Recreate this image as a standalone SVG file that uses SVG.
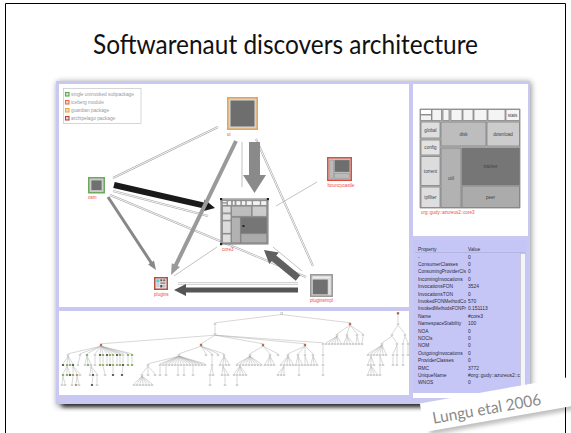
<svg xmlns="http://www.w3.org/2000/svg" xmlns:xlink="http://www.w3.org/1999/xlink" width="571" height="433" viewBox="0 0 571 433">
<style>
.t{font-family:"Liberation Sans",Arial,sans-serif}
.lg{font-size:4.8px;fill:#9a9a9a}
.nl{font-size:4.6px;fill:#f04848}
.tm{font-size:4.6px;fill:#444;text-anchor:middle}
.pp{font-size:4.9px;fill:#2a2a3a}
.cell{stroke:#7a7a7a;stroke-width:.7px;vector-effect:non-scaling-stroke}
.edge{fill:none;stroke:#a8a8a8;stroke-width:.45}
.thin{fill:none;stroke:#a8a8a8;stroke-width:.7}
.nd{fill:none;stroke-linecap:square}
</style>
<defs>
<filter id="blur" x="-10%" y="-10%" width="120%" height="130%"><feGaussianBlur stdDeviation="3"/></filter>
<filter id="blur2" x="-10%" y="-50%" width="120%" height="200%"><feGaussianBlur stdDeviation="2.2"/></filter>
<!-- treemap cells of the core3 package -->
<g id="tm">
<rect class="cell" x="420" y="109" width="100" height="99" fill="#b8b8b8"/>
<rect class="cell" x="420.5" y="109.5" width="11" height="5" fill="#fff"/>
<rect class="cell" x="420.5" y="115" width="11" height="5.5" fill="#f2f2f2"/>
<rect class="cell" x="432" y="109.5" width="9.5" height="11" fill="#f4f4f4"/>
<rect class="cell" x="443" y="109.5" width="6" height="11" fill="#f4f4f4"/>
<rect class="cell" x="451" y="109.5" width="11" height="11" fill="#f4f4f4"/>
<rect class="cell" x="463" y="109.5" width="10" height="11" fill="#f4f4f4"/>
<rect class="cell" x="474" y="109.5" width="13" height="11" fill="#f4f4f4"/>
<rect class="cell" x="488" y="109.5" width="17" height="11" fill="#f4f4f4"/>
<rect class="cell" x="506" y="109.5" width="13.5" height="11" fill="#f4f4f4"/>
<rect class="cell" x="421" y="122" width="19" height="16" fill="#dedede"/>
<rect class="cell" x="421" y="140" width="19" height="15" fill="#e2e2e2"/>
<rect class="cell" x="421" y="156.5" width="19" height="29" fill="#dcdcdc"/>
<rect class="cell" x="421" y="187" width="19" height="20.5" fill="#dedede"/>
<rect class="cell" x="441" y="122" width="45" height="24" fill="#bdbdbd"/>
<rect class="cell" x="487" y="122" width="32.5" height="24" fill="#cccccc"/>
<rect class="cell" x="441" y="148" width="20" height="59.5" fill="#b2b2b2"/>
<rect class="cell" x="462" y="148" width="57.5" height="37" fill="#767676"/>
<rect class="cell" x="462" y="186" width="57.5" height="21.5" fill="#ababab"/>
</g>
<!-- connector geometry shared by the two strokes of each double line -->
<path id="dl" d="M218,127L113,178M113,191L208,216M110,195L306,277M256,139L313,266M298,283.5L178,283.5"/>
<!-- tree nodes -->
<path id="nw" d="M281.7,313.3h.01M215,324h.01M215,334h.01M323,344h.01M337,335h.01M347,335h.01M357,335h.01M363,335h.01
M326,344h.01M329,344h.01M332,344h.01M335,344h.01M338,344h.01M341,344h.01M344,344h.01M347,344h.01M350,344h.01M353,344h.01M356,344h.01M359,344h.01M362,344h.01
M323,355h.01M323,365h.01M323,375h.01
M398,324h.01M392,335h.01M405,335h.01M382,344h.01M397,344h.01M403,344h.01M408,344h.01
M368,355h.01M371,355h.01M374,355h.01M377,355h.01M380,355h.01M383,355h.01M386,355h.01M393,355h.01M397,355h.01M403,355h.01M408,355h.01
M368,365h.01M371,365h.01M374,365h.01M380,365h.01M383,365h.01M393,365h.01M397,365h.01M403,365h.01
M368,375h.01M371,375h.01M374,375h.01M377,375h.01M380,375h.01
M250,355h.01M270,355h.01M278,355h.01
M237,365h.01M240,365h.01M243,365h.01M246,365h.01M249,365h.01M252,365h.01M255,365h.01M258,365h.01M261,365h.01M265,365h.01M268,365h.01M271,365h.01M274,365h.01
M234,375h.01M237,375h.01M240,375h.01M243,375h.01M246,375h.01M237,385h.01
M288,355h.01M298,355h.01M305,355h.01M313,355h.01
M281,365h.01M284,365h.01M287,365h.01M290,365h.01M293,365h.01M296,365h.01M299,365h.01M302,365h.01M305,365h.01M308,365h.01M311,365h.01M314,365h.01M317,365h.01
M278,375h.01M281,375h.01M284,375h.01M299,375h.01
M179,355h.01M206,355h.01M212,355h.01M218,355h.01M224,355h.01
M148,365h.01M160,365h.01M163,365h.01M166,365h.01M169,365h.01M172,365h.01M175,365h.01M178,365h.01M181,365h.01M184,365h.01M187,365h.01M190,365h.01M193,365h.01M196,365h.01M199,365h.01M202,365h.01M205,365h.01M212,365h.01M220,365h.01M223,365h.01M226,365h.01M229,365h.01
M142,375h.01M148,375h.01M155,375h.01M160,375h.01M166,375h.01M178,375h.01M184,375h.01M193,375h.01M210,375h.01M213,375h.01M222,375h.01M225,375h.01M228,375h.01
M134,385h.01M137,385h.01M140,385h.01M143,385h.01M146,385h.01M149,385h.01M152,385h.01M210,385h.01M225,385h.01
M68,355h.01M80,355h.01M95,355h.01M123,355h.01M78,365h.01M85,365h.01M91,365h.01M95,365h.01
M80,375h.01M90,375h.01M97,375h.01M105,375h.01M62,385h.01M65,385h.01M72,385h.01M79,385h.01M97,385h.01"/>
<path id="nr" d="M350,324h.01M101,345h.01M201,345h.01M263,345h.01M305,345h.01M398,313.3h.01"/>
<path id="ng" d="M87,355h.01M103,355h.01M110,355h.01M120,355h.01M128,355h.01M132,355h.01M67,365h.01M70,365h.01M88,365h.01M100,365h.01M107,365h.01M113,365h.01M120,365h.01M128,365h.01M132,365h.01M63,375h.01M67,375h.01M73,375h.01"/>
<path id="nk" d="M100,355h.01M107,355h.01M117,355h.01M63,365h.01M73,365h.01M110,365h.01M123,365h.01M70,375h.01M93,375h.01M113,375h.01M122,375h.01M92,385h.01"/>
<path id="ny" d="M113,355h.01M103,365h.01M117,365h.01"/>
<path id="no" d="M77,375h.01M76,385h.01"/>
</defs>

<!-- slide -->
<rect width="571" height="433" fill="#fff"/>
<path d="M5.5,440V3.5H565.5V440" fill="none" stroke="#000" stroke-width="1"/>
<text x="285.5" y="53.5" text-anchor="middle" font-family="Lato,'Liberation Sans',sans-serif" font-size="26" fill="#111" textLength="385" lengthAdjust="spacingAndGlyphs">Softwarenaut discovers architecture</text>

<!-- window shadow -->
<rect x="57" y="82" width="474" height="324" fill="#000" opacity=".45" filter="url(#blur)"/>
<rect x="62" y="398" width="440" height="9" fill="#000" opacity=".75" filter="url(#blur2)"/>

<!-- window frame and panels -->
<rect x="56" y="81" width="474" height="323" fill="#c8c8f2"/>
<rect x="59" y="84" width="350" height="223" fill="#fff"/>
<rect x="59" y="311" width="350" height="84" fill="#fff"/>
<rect x="413" y="84" width="115" height="152" fill="#fff"/>
<rect x="413" y="240" width="114" height="155" fill="#c6c6f6"/>
<rect x="413" y="393" width="114" height="5" fill="#fff"/>

<!-- legend -->
<g id="legend">
<rect x="63.5" y="88.5" width="77.5" height="35" fill="#fff" stroke="#bbb" stroke-width=".6"/>
<rect x="65.5" y="92.5" width="3.5" height="3.5" fill="#ddd" stroke="#5aaa4a" stroke-width="1.1"/>
<rect x="65.5" y="100.5" width="3.5" height="3.5" fill="#ddd" stroke="#f06a4a" stroke-width="1.1"/>
<rect x="65.5" y="108.5" width="3.5" height="3.5" fill="#ddd" stroke="#f5a530" stroke-width="1.1"/>
<rect x="65.5" y="116.5" width="3.5" height="3.5" fill="#ddd" stroke="#b8423a" stroke-width="1.1"/>
<text class="t lg" x="71" y="96">single uninvoked subpackage</text>
<text class="t lg" x="71" y="104">iceberg module</text>
<text class="t lg" x="71" y="112">guardian package</text>
<text class="t lg" x="71" y="120">archipelago package</text>
</g>

<!-- dependencies between packages -->
<g id="connectors">
<use href="#dl" fill="none" stroke="#a8a8a8" stroke-width="2"/>
<use href="#dl" fill="none" stroke="#fff" stroke-width=".9"/>
<path class="thin" d="M242,142L242,187M317,182L276,206M302,271L273,247M217,247L174,276"/>
<polygon fill="#1a1a1a" points="113.3,188.1 202.6,208.2 201.9,211.4 215,208 204.7,199.4 204,202.5 114.7,181.9"/>
<polygon fill="#8a8a8a" points="249,142 260,142 260,175 266,175 254.5,193 243,175 249,175"/>
<polygon fill="#9a9a9a" points="234.2,140.13 174,264.23 171.75,263.14 171,275 179.85,267.06 177.6,265.97 237.8,141.87"/>
<polygon fill="#888" points="106.75,197.82 149.81,263.31 148.14,264.41 156,270 153.98,260.57 152.31,261.67 109.25,196.18"/>
<polygon fill="#606060" points="300.23,275.3 276.27,255.57 278.81,252.48 264,250 269.27,264.06 271.81,260.97 295.77,280.7"/>
<polygon fill="#555" points="298,287.5 186,287.5 186,284 174,290 186,296 186,292.5 298,292.5"/>
</g>

<!-- package nodes -->
<g id="ui">
<rect x="227.75" y="97.75" width="29.5" height="31.5" fill="#ccc" stroke="#f2a33a" stroke-width="1.5"/>
<rect x="230" y="100" width="25" height="27" fill="#6e6e6e" stroke="#d8d8d8" stroke-width="1"/>
<text class="t nl" x="227" y="135.5">ui</text>
</g>
<g id="bouncycastle">
<rect x="327.75" y="157.75" width="23.5" height="22.5" fill="#ccc" stroke="#e04a3a" stroke-width="1.5"/>
<rect x="329.8" y="160" width="3.6" height="18.2" fill="#bbb" stroke="#888" stroke-width=".5"/>
<rect x="334.6" y="160" width="15" height="12" fill="#6e6e6e" stroke="#999" stroke-width=".5"/>
<rect x="334.6" y="173.2" width="15" height="5" fill="#bbb" stroke="#888" stroke-width=".5"/>
<text class="t nl" x="327.5" y="187">bouncycastle</text>
</g>
<g id="osm">
<rect x="88.75" y="177.75" width="15.5" height="15" fill="#ccc" stroke="#6aaa5a" stroke-width="1.5"/>
<rect x="91" y="180" width="11" height="10.5" fill="#707070" stroke="#ccc" stroke-width=".8"/>
<text class="t nl" x="88" y="198.5">osm</text>
</g>
<g id="core3">
<rect x="221" y="199" width="47" height="45" fill="#ddd" stroke="#555" stroke-width=".8"/>
<use href="#tm" transform="translate(222,200.5) scale(0.45,0.43) translate(-420,-109)"/>
<rect x="220" y="198" width="2.2" height="2.2" fill="#222"/>
<rect x="266.8" y="198" width="2.2" height="2.2" fill="#222"/>
<rect x="220" y="243" width="2.2" height="2.2" fill="#222"/>
<rect x="242.5" y="225" width="2" height="2" fill="#222"/>
<text class="t nl" x="222" y="250.5">core3</text>
</g>
<g id="plugins">
<rect x="154.75" y="277.75" width="12.5" height="11.5" fill="#eee" stroke="#b55040" stroke-width="1.5"/>
<rect x="156.3" y="279.3" width="3.2" height="3.2" fill="#5cc8e0"/>
<rect x="160.3" y="279.3" width="2" height="2" fill="#555"/>
<rect x="163" y="279.3" width="2.5" height="2" fill="#777"/>
<rect x="160.3" y="282.2" width="5.2" height="2" fill="#999"/>
<rect x="156.3" y="283.2" width="3.2" height="4" fill="#ccc"/>
<rect x="160.3" y="285" width="2" height="2.5" fill="#444"/>
<rect x="163" y="285" width="2.5" height="2.5" fill="#bbb"/>
<text class="t nl" x="154" y="296">plugins</text>
</g>
<g id="pluginsimpl">
<rect x="310.75" y="274.75" width="21.5" height="21.5" fill="#ccc" stroke="#9a9a9a" stroke-width="1.5"/>
<rect x="312.5" y="276.5" width="18" height="2" fill="#eee"/>
<rect x="312.5" y="279.2" width="15.5" height="15.5" fill="#707070" stroke="#ddd" stroke-width=".5"/>
<rect x="328.6" y="279.2" width="1.9" height="15.5" fill="#e4e4e4"/>
<text class="t nl" x="310" y="302">pluginsimpl</text>
</g>

<!-- treemap of the selected package -->
<g id="treemap">
<use href="#tm"/>
<text class="t tm" x="512.5" y="116.5">stats</text>
<text class="t tm" x="430.5" y="131.5">global</text>
<text class="t tm" x="430.5" y="149">config</text>
<text class="t tm" x="430.5" y="172.5">torrent</text>
<text class="t tm" x="430.5" y="198.5">ipfilter</text>
<text class="t tm" x="463.5" y="135.5">disk</text>
<text class="t tm" x="503" y="135.5">download</text>
<text class="t tm" x="451" y="179.5">util</text>
<text class="t tm" x="490.5" y="168">tracker</text>
<text class="t tm" x="490.5" y="198.5">peer</text>
<text class="t" x="421" y="214" font-size="4.5" fill="#f04848">org::gudy::azureus2::core3</text>
</g>

<!-- property table -->
<g id="properties">
<line x1="415" y1="252.5" x2="525" y2="252.5" stroke="#a4a4cc" stroke-width=".5"/>
<rect x="520.5" y="253.5" width="5" height="139" fill="#f4f4fb" stroke="#aaa" stroke-width=".4"/>
<text class="t pp" x="418" y="251">Property</text><text class="t pp" x="468" y="251">Value</text>
<g class="t pp">
<text x="418" y="258.5">-</text><text x="468" y="258.5">0</text>
<text x="418" y="265.9">ConsumerClasses</text><text x="468" y="265.9">0</text>
<text x="418" y="273.3" textLength="48" lengthAdjust="spacingAndGlyphs">ConsumingProviderCls</text><text x="468" y="273.3">0</text>
<text x="418" y="280.7">IncomingInvocations</text><text x="468" y="280.7">0</text>
<text x="418" y="288.1">InvocationsFON</text><text x="468" y="288.1">3524</text>
<text x="418" y="295.5">InvocationsTON</text><text x="468" y="295.5">0</text>
<text x="418" y="302.9" textLength="48" lengthAdjust="spacingAndGlyphs">InvokedFONMethodCo</text><text x="468" y="302.9">570</text>
<text x="418" y="310.3" textLength="48" lengthAdjust="spacingAndGlyphs">InvokedMethodsFONPr</text><text x="468" y="310.3">0.151113</text>
<text x="418" y="317.7">Name</text><text x="468" y="317.7">#core3</text>
<text x="418" y="325.1">NamespaceStability</text><text x="468" y="325.1">100</text>
<text x="418" y="332.5">NOA</text><text x="468" y="332.5">0</text>
<text x="418" y="339.9">NOCls</text><text x="468" y="339.9">0</text>
<text x="418" y="347.3">NOM</text><text x="468" y="347.3">0</text>
<text x="418" y="354.7">OutgoingInvocations</text><text x="468" y="354.7">0</text>
<text x="418" y="362.1">ProviderClasses</text><text x="468" y="362.1">0</text>
<text x="418" y="369.5">RMC</text><text x="468" y="369.5">3772</text>
<text x="418" y="376.9">UniqueName</text><text x="468" y="376.9" textLength="52" lengthAdjust="spacingAndGlyphs">#org::gudy::azureus2::c</text>
<text x="418" y="384.3">WNOS</text><text x="468" y="384.3">0</text>
</g>
</g>

<!-- package hierarchy tree -->
<g id="tree">
<path class="edge" d="M281.7,314.5L215,322.8M281.7,314.5L350,322.8M215,325.2L215,332.8M215,335.2L101,343.8M215,335.2L201,343.8M215,335.2L263,343.8M215,335.2L305,343.8M215,335.2L323,342.8
M350,325.2L337,333.8M350,325.2L347,333.8M350,325.2L357,333.8M350,325.2L363,333.8
M337,336.2L326,342.8M337,336.2L329,342.8M337,336.2L332,342.8M337,336.2L335,342.8M337,336.2L338,342.8M337,336.2L341,342.8
M347,336.2L344,342.8M347,336.2L347,342.8M347,336.2L350,342.8M347,336.2L353,342.8M357,336.2L356,342.8M357,336.2L359,342.8M363,336.2L362,342.8
M323,345.2L323,353.8M323,356.2L323,363.8M323,366.2L323,373.8
M398,314.5L398,322.8M398,325.2L392,333.8M398,325.2L405,333.8M392,336.2L382,342.8M392,336.2L397,342.8M405,336.2L403,342.8M405,336.2L408,342.8
M382,345.2L368,353.8M382,345.2L371,353.8M382,345.2L374,353.8M382,345.2L377,353.8M382,345.2L380,353.8M382,345.2L383,353.8M382,345.2L386,353.8
M397,345.2L393,353.8M397,345.2L397,353.8M403,345.2L403,353.8M408,345.2L408,353.8
M371,356.2L368,363.8M371,356.2L371,363.8M371,356.2L374,363.8M380,356.2L380,363.8M380,356.2L383,363.8M393,356.2L393,363.8M397,356.2L397,363.8M403,356.2L403,363.8
M371,366.2L368,373.8M371,366.2L371,373.8M371,366.2L374,373.8M371,366.2L377,373.8M380,366.2L380,373.8
M263,346.2L250,353.8M263,346.2L270,353.8M263,346.2L278,353.8
M250,356.2L237,363.8M250,356.2L240,363.8M250,356.2L243,363.8M250,356.2L246,363.8M250,356.2L249,363.8M250,356.2L252,363.8M250,356.2L255,363.8M250,356.2L258,363.8M250,356.2L261,363.8
M270,356.2L265,363.8M270,356.2L268,363.8M270,356.2L271,363.8M270,356.2L274,363.8
M240,366.2L234,373.8M240,366.2L237,373.8M240,366.2L240,373.8M240,366.2L243,373.8M240,366.2L246,373.8M237,376.2L237,383.8
M305,346.2L288,353.8M305,346.2L298,353.8M305,346.2L305,353.8M305,346.2L313,353.8
M288,356.2L281,363.8M288,356.2L284,363.8M288,356.2L287,363.8M288,356.2L290,363.8M288,356.2L293,363.8
M298,356.2L296,363.8M298,356.2L299,363.8M298,356.2L302,363.8M305,356.2L305,363.8M305,356.2L308,363.8
M313,356.2L311,363.8M313,356.2L314,363.8M313,356.2L317,363.8
M284,366.2L278,373.8M284,366.2L281,373.8M284,366.2L284,373.8M299,366.2L299,373.8
M201,346.2L179,353.8M201,346.2L206,353.8M201,346.2L212,353.8M201,346.2L218,353.8M201,346.2L224,353.8
M179,356.2L148,363.8M179,356.2L160,363.8M179,356.2L163,363.8M179,356.2L166,363.8M179,356.2L169,363.8M179,356.2L172,363.8M179,356.2L175,363.8M179,356.2L178,363.8M179,356.2L181,363.8M179,356.2L184,363.8M179,356.2L187,363.8M179,356.2L190,363.8M179,356.2L193,363.8M179,356.2L196,363.8M179,356.2L199,363.8M179,356.2L202,363.8M179,356.2L205,363.8
M224,356.2L220,363.8M224,356.2L223,363.8M224,356.2L226,363.8M224,356.2L229,363.8
M223,366.2L222,373.8M223,366.2L225,373.8M223,366.2L228,373.8M225,376.2L225,383.8
M212,356.2L212,363.8M212,366.2L210,373.8M212,366.2L213,373.8M210,376.2L210,383.8
M160,366.2L160,373.8M166,366.2L166,373.8M178,366.2L178,373.8M184,366.2L184,373.8M193,366.2L193,373.8
M148,366.2L142,373.8M148,366.2L148,373.8M148,366.2L155,373.8
M142,376.2L134,383.8M142,376.2L137,383.8M142,376.2L140,383.8M142,376.2L143,383.8M142,376.2L146,383.8M142,376.2L149,383.8M142,376.2L152,383.8
M101,346.2L68,353.8M101,346.2L80,353.8M101,346.2L87,353.8M101,346.2L95,353.8M101,346.2L100,353.8M101,346.2L103,353.8M101,346.2L107,353.8M101,346.2L110,353.8M101,346.2L113,353.8M101,346.2L117,353.8M101,346.2L120,353.8M101,346.2L123,353.8M101,346.2L128,353.8M101,346.2L132,353.8
M68,356.2L63,363.8M68,356.2L67,363.8M68,356.2L70,363.8M68,356.2L73,363.8M80,356.2L78,363.8M87,356.2L85,363.8M87,356.2L88,363.8M87,356.2L91,363.8
M95,356.2V363.8M100,356.2V363.8M103,356.2V363.8M107,356.2V363.8M110,356.2V363.8M113,356.2V363.8M117,356.2V363.8M120,356.2V363.8M123,356.2V363.8M128,356.2V363.8M132,356.2V363.8
M67,366.2L63,373.8M67,366.2L67,373.8M67,366.2L70,373.8M73,366.2L73,373.8M73,366.2L77,373.8M73,366.2L80,373.8M91,366.2L90,373.8M91,366.2L93,373.8M91,366.2L97,373.8
M103,366.2L105,373.8M113,366.2L113,373.8M123,366.2L122,373.8
M63,376.2L62,383.8M63,376.2L65,383.8M73,376.2L72,383.8M77,376.2L76,383.8M77,376.2L79,383.8M93,376.2L92,383.8M97,376.2L97,383.8"/>
<use href="#nw" class="nd" stroke="#a0a0a0" stroke-width="2.2"/>
<use href="#nw" class="nd" stroke="#fff" stroke-width="1.4"/>
<use href="#nr" class="nd" stroke="#a0a0a0" stroke-width="2.4"/>
<use href="#nr" class="nd" stroke="#d84a28" stroke-width="1.7"/>
<use href="#ng" class="nd" stroke="#909090" stroke-width="2.2"/>
<use href="#ng" class="nd" stroke="#8ccc50" stroke-width="1.5"/>
<use href="#nk" class="nd" stroke="#909090" stroke-width="2.2"/>
<use href="#nk" class="nd" stroke="#3a4a30" stroke-width="1.5"/>
<use href="#ny" class="nd" stroke="#909090" stroke-width="2.2"/>
<use href="#ny" class="nd" stroke="#c8c860" stroke-width="1.5"/>
<use href="#no" class="nd" stroke="#909090" stroke-width="2.2"/>
<use href="#no" class="nd" stroke="#d9a070" stroke-width="1.5"/>
</g>

<!-- citation strip -->
<g id="citation" transform="rotate(-10 486 410)">
<rect x="427" y="398" width="200" height="27" fill="#000" opacity=".25" filter="url(#blur2)"/>
<rect x="422" y="392" width="200" height="29" fill="#fff"/>
<text x="487" y="414.5" text-anchor="middle" font-family="Lato,'Liberation Sans',sans-serif" font-size="16" fill="#8a8a8a" textLength="110" lengthAdjust="spacingAndGlyphs">Lungu etal 2006</text>
</g>
</svg>
